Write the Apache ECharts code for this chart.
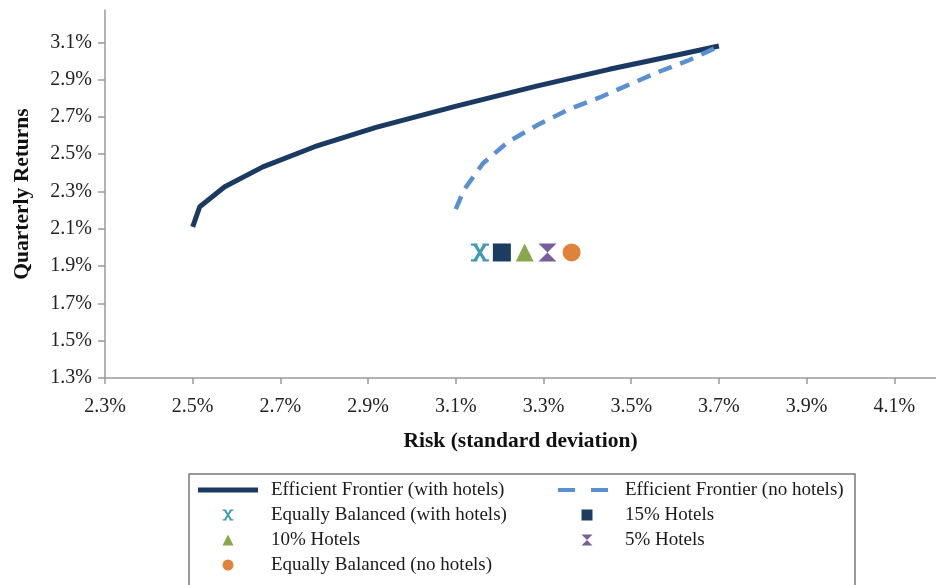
<!DOCTYPE html>
<html>
<head>
<meta charset="utf-8">
<script src="https://cdn.jsdelivr.net/npm/echarts@6/dist/echarts.min.js"></script>
<style>html,body{margin:0;padding:0;background:#fff}#c{width:936px;height:585px}</style>
</head>
<body>
<div id="c"></div>
<script>
// ---- data (percent) ----
const withHotelsRisk   = [2.500, 2.516, 2.573, 2.660, 2.778, 2.918, 3.101, 3.284, 3.450, 3.607, 3.700];
const withHotelsReturn = [2.110, 2.218, 2.325, 2.432, 2.540, 2.644, 2.758, 2.865, 2.955, 3.033, 3.080];
const noHotelsRisk   = [3.100, 3.118, 3.162, 3.219, 3.293, 3.363, 3.432, 3.502, 3.563, 3.633, 3.700];
const noHotelsReturn = [2.205, 2.307, 2.451, 2.566, 2.665, 2.746, 2.808, 2.880, 2.942, 3.005, 3.078];
const portfolioNames  = ['Equally Balanced (with hotels)', '15% Hotels', '10% Hotels', '5% Hotels', 'Equally Balanced (no hotels)'];
const portfolioRisk   = [3.155, 3.205, 3.257, 3.309, 3.364];
const portfolioReturn = [1.973, 1.973, 1.973, 1.973, 1.973];
const xTicks = [2.3, 2.5, 2.7, 2.9, 3.1, 3.3, 3.5, 3.7, 3.9, 4.1];
const yTicks = [1.3, 1.5, 1.7, 1.9, 2.1, 2.3, 2.5, 2.7, 2.9, 3.1];
const lineNames = ['Efficient Frontier (with hotels)', 'Efficient Frontier (no hotels)'];

// ---- styling ----
const FONT = '"Liberation Serif", "DejaVu Serif", serif';
const zip = (a, b) => a.map((v, i) => [v, b[i]]);
const X_PATH = 'path://M0,0H3.6V1.2H0Z M6.4,0H10V1.2H6.4Z M0,8.8H3.6V10H0Z M6.4,8.8H10V10H6.4Z ' +
               'M0.8,0L2.9,0L9.2,10L7.1,10Z M7.1,0L9.2,0L2.9,10L0.8,10Z';
const HOUR_PATH = 'path://M0,0L10,0L5,5L10,10L0,10L5,5Z';
const SQUARE_PATH = 'path://M0,0H10V10H0Z';
const TRI_PATH = 'path://M5,0L10,10L0,10Z';
const markerStyles = [
  {symbol: X_PATH, color: '#3f9bb3'},
  {symbol: SQUARE_PATH, color: '#1d3c62'},
  {symbol: TRI_PATH, color: '#8ba74c'},
  {symbol: HOUR_PATH, color: '#7a5e9c'},
  {symbol: 'circle', color: '#e0823a'}
];
const lineColors = ['#1b3a62', '#5a8fd2'];

const series = [
  {name: lineNames[0], type: 'line', data: zip(withHotelsRisk, withHotelsReturn), symbol: 'none',
   lineStyle: {color: lineColors[0], width: 5}, itemStyle: {color: lineColors[0]}, z: 2},
  {name: lineNames[1], type: 'line', data: zip(noHotelsRisk, noHotelsReturn), symbol: 'none',
   lineStyle: {color: lineColors[1], width: 4.5, type: [14, 9]}, itemStyle: {color: lineColors[1]}, z: 3}
];
portfolioNames.forEach((n, i) => {
  series.push({name: n, type: 'scatter', data: [[portfolioRisk[i], portfolioReturn[i]]],
    symbol: markerStyles[i].symbol, symbolSize: 18, itemStyle: {color: markerStyles[i].color, opacity: 1}, z: 4});
});

// legend layout
const LTEXT = {fontFamily: FONT, fontSize: 19, color: '#1a1a1a', lineHeight: 20};
function lineLegend(name, icon, left, cy, w, h, textX) {
  return {left: left, top: cy - 10, itemWidth: w, itemHeight: h, selectedMode: false, padding: 0,
    data: [{name: name, icon: icon}], textStyle: Object.assign({padding: [0, 0, 0, textX - (left + w + 5)]}, LTEXT)};
}
function markerLegend(name, icon, cx, cy, textX) {
  const s = 11, left = cx - s / 2;
  return {left: left, top: cy - 10, itemWidth: s, itemHeight: s, selectedMode: false, padding: 0,
    data: [{name: name, icon: icon}], textStyle: Object.assign({padding: [0, 0, 0, textX - (left + s + 5)]}, LTEXT)};
}
const legends = [
  lineLegend(lineNames[0], 'path://M0,0H60V5H0Z', 198, 490, 60, 5, 271),
  lineLegend(lineNames[1], 'path://M0,0H17V4H0Z M33,0H50V4H33Z', 558, 490, 50, 4, 625),
  markerLegend(portfolioNames[0], X_PATH, 228, 515, 271),
  markerLegend(portfolioNames[2], TRI_PATH, 228, 540, 271),
  markerLegend(portfolioNames[4], 'circle', 228, 565, 271),
  markerLegend(portfolioNames[1], SQUARE_PATH, 587, 515, 625),
  markerLegend(portfolioNames[3], HOUR_PATH, 587, 540, 625)
];

const axisText = {fontFamily: FONT, fontSize: 20, color: '#222'};
const chart = echarts.init(document.getElementById('c'));
chart.setOption({
  animation: false,
  backgroundColor: '#fff',
  grid: {left: 105, right: 0, top: 10, bottom: 207, containLabel: false, outerBoundsMode: 'none'},
  xAxis: {
    type: 'value', min: 2.3, max: 4.195,
    name: 'Risk (standard deviation)', nameLocation: 'middle', nameGap: 52,
    nameTextStyle: {fontFamily: FONT, fontSize: 21.5, fontWeight: 'bold', color: '#111'},
    axisLine: {show: true, lineStyle: {color: '#9a9a9a', width: 1.5}},
    axisTick: {show: true, length: 6, customValues: xTicks, lineStyle: {color: '#9a9a9a', width: 1.5}},
    axisLabel: Object.assign({customValues: xTicks, margin: 19, formatter: v => v.toFixed(1) + '%'}, axisText),
    splitLine: {show: false}
  },
  yAxis: {
    type: 'value', min: 1.3, max: 3.273,
    name: 'Quarterly Returns', nameLocation: 'middle', nameGap: 72, nameRotate: 90,
    nameTextStyle: {fontFamily: FONT, fontSize: 21.5, fontWeight: 'bold', color: '#111'},
    axisLine: {show: true, lineStyle: {color: '#9a9a9a', width: 1.5}},
    axisTick: {show: true, length: 7, customValues: yTicks, lineStyle: {color: '#9a9a9a', width: 1.5}},
    axisLabel: Object.assign({customValues: yTicks, margin: 13, formatter: v => v.toFixed(1) + '%'}, axisText),
    splitLine: {show: false}
  },
  legend: legends,
  graphic: [{type: 'rect', shape: {x: 189, y: 474, width: 666, height: 130},
    style: {fill: 'none', stroke: '#7a7a7a', lineWidth: 1.5}, silent: true}],
  series: series
});
</script>
</body>
</html>
